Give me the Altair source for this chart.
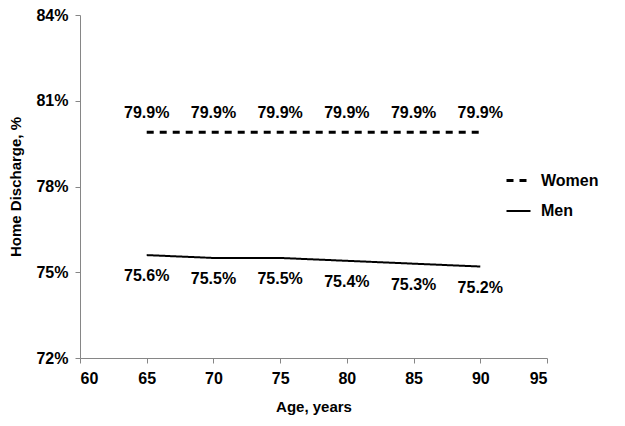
import altair as alt
import pandas as pd

ages = [65, 70, 75, 80, 85, 90]
women = [79.9, 79.9, 79.9, 79.9, 79.9, 79.9]
men = [75.6, 75.5, 75.5, 75.4, 75.3, 75.2]
series_names = ["Women", "Men"]
y_ticks = [72, 75, 78, 81, 84]
x_ticks = [60, 65, 70, 75, 80, 85, 90, 95]

rows = []
for a, w in zip(ages, women):
    rows.append({"age": a, "value": w, "series": "Women"})
for a, m in zip(ages, men):
    rows.append({"age": a, "value": m, "series": "Men"})
df = pd.DataFrame(rows)

FONT = "Liberation Sans"

x = alt.X("age:Q", title="Age, years",
          scale=alt.Scale(domain=[60, 95], nice=False, zero=False),
          axis=alt.Axis(values=x_ticks, grid=False, domainColor="#868686",
                        tickColor="#868686", tickSize=5, labelPadding=7,
                        labelFontSize=16, labelFontWeight="bold", labelFont=FONT,
                        labelColor="black", titleFontSize=15, titleFontWeight="bold",
                        titleFont=FONT, titleColor="black", titlePadding=13))
y = alt.Y("value:Q", title="Home Discharge, %",
          scale=alt.Scale(domain=[72, 84], nice=False, zero=False),
          axis=alt.Axis(values=y_ticks, grid=False, domainColor="#868686",
                        tickColor="#868686", tickSize=5, labelPadding=7,
                        labelExpr="datum.value + '%'",
                        labelFontSize=16, labelFontWeight="bold", labelFont=FONT,
                        labelColor="black", titleFontSize=15, titleFontWeight="bold",
                        titleFont=FONT, titleColor="black", titlePadding=12))

legend = alt.Legend(title=None, orient="none", legendX=425, legendY=152,
                    symbolType="stroke", symbolSize=576, symbolStrokeColor="black",
                    labelFontSize=16, labelFontWeight="bold", labelFont=FONT,
                    labelColor="black", labelOffset=9, rowPadding=9, padding=0)

lines = alt.Chart(df).mark_line(color="black").encode(
    x=x, y=y,
    detail="series:N",
    strokeDash=alt.StrokeDash("series:N", scale=alt.Scale(domain=series_names, range=[[7, 6], [1, 0]]), legend=legend),
    strokeWidth=alt.StrokeWidth("series:N", scale=alt.Scale(domain=series_names, range=[3, 2]), legend=legend),
)

base_text = alt.Chart(df).transform_calculate(
    label="format(datum.value, '.1f') + '%'"
)
women_text = base_text.transform_filter("datum.series == 'Women'").mark_text(
    dy=-19, fontSize=16, fontWeight="bold", font=FONT, color="black"
).encode(x="age:Q", y="value:Q", text="label:N")
men_text = base_text.transform_filter("datum.series == 'Men'").mark_text(
    dy=21, fontSize=16, fontWeight="bold", font=FONT, color="black"
).encode(x="age:Q", y="value:Q", text="label:N")

chart = alt.layer(lines, women_text, men_text).properties(
    width=467, height=343,
    autosize=alt.AutoSizeParams(type="none"),
    padding={"left": 72, "top": 7, "right": 70, "bottom": 60},
    background="white",
).configure_view(stroke=None)

chart.save("out.html", embed_options={"renderer": "svg", "actions": False})
